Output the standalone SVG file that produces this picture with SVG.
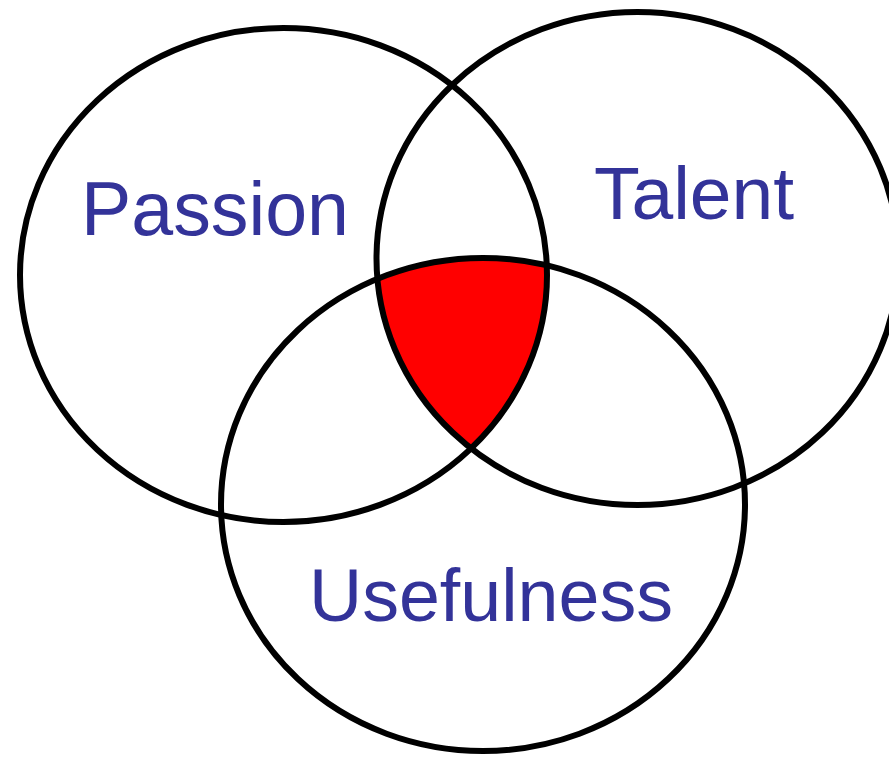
<svg xmlns="http://www.w3.org/2000/svg" width="889" height="758" viewBox="0 0 889 758">
<style>
.ring{fill:none;stroke:#000;stroke-width:6}
.lbl{font-family:"Liberation Sans",Arial,sans-serif;font-size:75px;fill:#333399}
</style>
<defs>
<clipPath id="clipP"><ellipse cx="283.5" cy="275" rx="263.5" ry="247"/></clipPath>
<clipPath id="clipT"><ellipse cx="637.5" cy="258.5" rx="261" ry="246.5"/></clipPath>
</defs>
<rect width="889" height="758" fill="#fff"/>
<g id="overlap">
<g clip-path="url(#clipP)"><g clip-path="url(#clipT)"><ellipse cx="483" cy="504.5" rx="262" ry="246.5" fill="#ff0000"/></g></g>
</g>
<g id="passion"><ellipse class="ring" cx="283.5" cy="275" rx="263.5" ry="247"/><text class="lbl" x="81" y="235" style="font-size:76px" textLength="268" lengthAdjust="spacingAndGlyphs">Passion</text></g>
<g id="talent"><ellipse class="ring" cx="637.5" cy="258.5" rx="261" ry="246.5"/><text class="lbl" x="594" y="219">Talent</text></g>
<g id="usefulness"><ellipse class="ring" cx="483" cy="504.5" rx="262" ry="246.5"/><text class="lbl" x="309" y="621" textLength="364" lengthAdjust="spacingAndGlyphs">Usefulness</text></g>
<g id="connectors"/>
</svg>
